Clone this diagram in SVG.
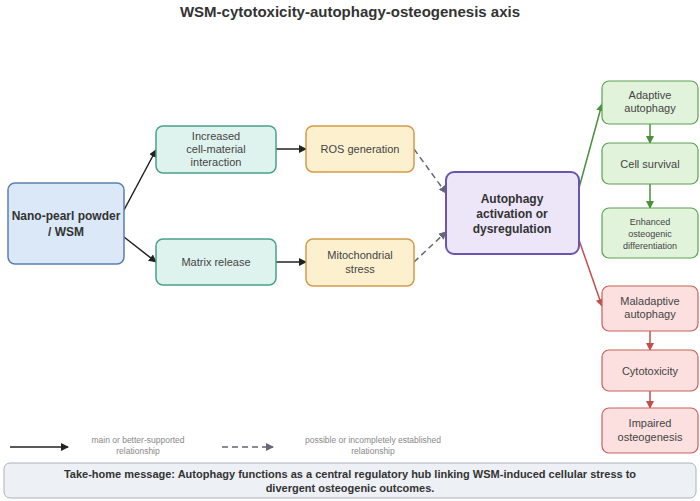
<svg xmlns="http://www.w3.org/2000/svg" width="700" height="501" viewBox="0 0 700 501">
<style>
text{font-family:"Liberation Sans",Arial,sans-serif;text-anchor:middle;fill:#444}
.n{font-size:11px}
.b{font-size:12px;font-weight:bold;fill:#333}
.lg{font-size:8.5px;fill:#888}
</style>
<defs>
<marker id="ak" markerWidth="8" markerHeight="8" refX="7" refY="4" orient="auto" markerUnits="userSpaceOnUse"><path d="M0,0 L8,4 L0,8z" fill="#222"/></marker>
<marker id="ag" markerWidth="8" markerHeight="8" refX="7" refY="4" orient="auto" markerUnits="userSpaceOnUse"><path d="M0,0 L8,4 L0,8z" fill="#4a8f3a"/></marker>
<marker id="ar" markerWidth="8" markerHeight="8" refX="7" refY="4" orient="auto" markerUnits="userSpaceOnUse"><path d="M0,0 L8,4 L0,8z" fill="#c0504d"/></marker>
<marker id="ad" markerWidth="8" markerHeight="8" refX="7" refY="4" orient="auto" markerUnits="userSpaceOnUse"><path d="M0,0 L8,4 L0,8z" fill="#667"/></marker>
</defs>
<rect width="700" height="501" fill="#fff"/>
<text x="350" y="17" style="font-size:15px;font-weight:bold;fill:#333">WSM-cytotoxicity-autophagy-osteogenesis axis</text>
<g id="connectors" fill="none" stroke-width="1.5">
<path d="M124,210 L156,150" stroke="#222" marker-end="url(#ak)"/>
<path d="M124,237 L156,262" stroke="#222" marker-end="url(#ak)"/>
<path d="M276,149 L306,149" stroke="#222" marker-end="url(#ak)"/>
<path d="M276,262 L306,262" stroke="#222" marker-end="url(#ak)"/>
<path d="M414,149 L446,193" stroke="#667" stroke-dasharray="6,4" marker-end="url(#ad)"/>
<path d="M414,262 L446,232" stroke="#667" stroke-dasharray="6,4" marker-end="url(#ad)"/>
<path d="M579,188 L602,104" stroke="#4a8f3a" marker-end="url(#ag)"/>
<path d="M650,124 L650,143" stroke="#4a8f3a" marker-end="url(#ag)"/>
<path d="M650,184 L650,208" stroke="#4a8f3a" marker-end="url(#ag)"/>
<path d="M579,240 L602,306" stroke="#c0504d" marker-end="url(#ar)"/>
<path d="M650,331 L650,350" stroke="#c0504d" marker-end="url(#ar)"/>
<path d="M650,391 L650,408" stroke="#c0504d" marker-end="url(#ar)"/>
<path d="M10,447 L68,447" stroke="#222" marker-end="url(#ak)"/>
<path d="M222,447 L273,447" stroke="#667" stroke-dasharray="6,4" marker-end="url(#ad)"/>
</g>
<g id="nano"><rect x="8" y="183" width="116" height="81" rx="7" fill="#dbe8f8" stroke="#5b7fb0" stroke-width="1.5"/><text class="b" x="66" y="220">Nano-pearl powder</text><text class="b" x="66" y="236">/ WSM</text></g>
<g id="increased"><rect x="156" y="126" width="120" height="47" rx="7" fill="#dff3ee" stroke="#4aa08a" stroke-width="1.5"/><text class="n" x="216" y="140">Increased</text><text class="n" x="216" y="153">cell-material</text><text class="n" x="216" y="166">interaction</text></g>
<g id="matrix"><rect x="156" y="239" width="120" height="46" rx="7" fill="#dff3ee" stroke="#4aa08a" stroke-width="1.5"/><text class="n" x="216" y="266">Matrix release</text></g>
<g id="ros"><rect x="306" y="126" width="108" height="46" rx="7" fill="#fdf0cf" stroke="#d49a4a" stroke-width="1.5"/><text class="n" x="360" y="153">ROS generation</text></g>
<g id="mito"><rect x="306" y="239" width="108" height="47" rx="7" fill="#fdf0cf" stroke="#d49a4a" stroke-width="1.5"/><text class="n" x="360" y="259">Mitochondrial</text><text class="n" x="360" y="273">stress</text></g>
<g id="autophagy"><rect x="446" y="172" width="133" height="82" rx="8" fill="#ece6f8" stroke="#6a55b0" stroke-width="2"/><text class="b" x="512" y="203">Autophagy</text><text class="b" x="512" y="218">activation or</text><text class="b" x="512" y="233">dysregulation</text></g>
<g id="adaptive"><rect x="602" y="81" width="96" height="43" rx="7" fill="#e2f3dc" stroke="#5da050" stroke-width="1.2"/><text class="n" x="650" y="99">Adaptive</text><text class="n" x="650" y="112">autophagy</text></g>
<g id="survival"><rect x="602" y="143" width="96" height="41" rx="7" fill="#e2f3dc" stroke="#5da050" stroke-width="1.2"/><text class="n" x="650" y="168">Cell survival</text></g>
<g id="enhanced"><rect x="602" y="208" width="96" height="50" rx="7" fill="#e2f3dc" stroke="#5da050" stroke-width="1.2"/><text class="n" x="650" y="225" style="font-size:9px">Enhanced</text><text class="n" x="650" y="237" style="font-size:9px">osteogenic</text><text class="n" x="650" y="249" style="font-size:9px">differentiation</text></g>
<g id="maladaptive"><rect x="602" y="286" width="96" height="45" rx="7" fill="#fbe0df" stroke="#c9605c" stroke-width="1.2"/><text class="n" x="650" y="305">Maladaptive</text><text class="n" x="650" y="318">autophagy</text></g>
<g id="cytotoxicity"><rect x="602" y="350" width="96" height="41" rx="7" fill="#fbe0df" stroke="#c9605c" stroke-width="1.2"/><text class="n" x="650" y="375">Cytotoxicity</text></g>
<g id="impaired"><rect x="602" y="408" width="96" height="45" rx="7" fill="#fbe0df" stroke="#c9605c" stroke-width="1.2"/><text class="n" x="650" y="427">Impaired</text><text class="n" x="650" y="441">osteogenesis</text></g>
<g id="legend"><text class="lg" x="138" y="443">main or better-supported</text><text class="lg" x="138" y="454">relationship</text><text class="lg" x="373" y="443">possible or incompletely established</text><text class="lg" x="373" y="454">relationship</text></g>
<g id="message"><rect x="4" y="463" width="692" height="35" rx="6" fill="#edf0f4" stroke="#aab2bc" stroke-width="1"/><text x="350" y="478" style="font-size:11px;font-weight:bold;fill:#333">Take-home message: Autophagy functions as a central regulatory hub linking WSM-induced cellular stress to</text><text x="350" y="492" style="font-size:11px;font-weight:bold;fill:#333">divergent osteogenic outcomes.</text></g>
</svg>
